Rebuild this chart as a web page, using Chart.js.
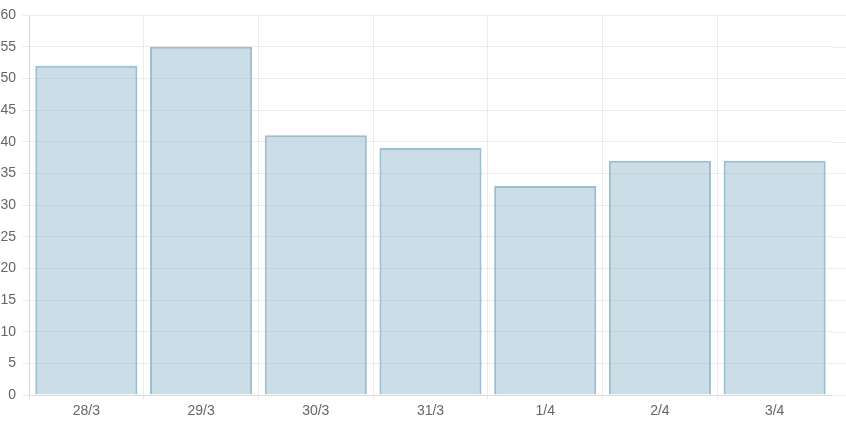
<!DOCTYPE html>
<html><head><meta charset="utf-8">
<script src="https://cdn.jsdelivr.net/npm/chart.js@4.4.1/dist/chart.umd.min.js"></script>
<style>
html,body{margin:0;padding:0;background:#fff;overflow:hidden}
#wrap{position:absolute;left:-4px;top:0;width:850px;height:422px}
</style></head><body>
<div id="wrap"><canvas id="c"></canvas></div>
<script>
const categories = ['28/3','29/3','30/3','31/3','1/4','2/4','3/4'];
const values = [52, 55, 41, 39, 33, 37, 37];
const yTicks = {min: 0, max: 60, step: 5};

const gridColor = 'rgba(0,0,0,0.07)';
const extendGrid = {
  id: 'extendGrid',
  beforeDatasetsDraw(chart) {
    const {ctx, chartArea, scales: {y}} = chart;
    ctx.save();
    ctx.strokeStyle = gridColor;
    ctx.lineWidth = 1;
    y.ticks.forEach((t, i) => {
      const py = Math.round(y.getPixelForTick(i)) + 0.5;
      ctx.beginPath();
      ctx.moveTo(chartArea.right, py);
      ctx.lineTo(chart.width, py);
      ctx.stroke();
    });
    ctx.restore();
  }
};

Chart.defaults.font.family = '"Liberation Sans", Arial, sans-serif';
Chart.defaults.font.size = 14;
Chart.defaults.color = '#666';
new Chart(document.getElementById('c'), {
  type: 'bar',
  data: {
    labels: categories,
    datasets: [{
      data: values,
      backgroundColor: 'rgba(151,187,205,0.5)',
      borderColor: 'rgba(151,187,205,0.95)',
      borderWidth: 2,
      categoryPercentage: 1,
      barPercentage: 0.89
    }]
  },
  options: {
    responsive: true,
    maintainAspectRatio: false,
    animation: false,
    layout: {padding: {top: 15, right: 14, left: 0, bottom: 0}},
    plugins: {legend: {display: false}, tooltip: {enabled: false}},
    scales: {
      x: {
        grid: {
          color: (c) => (c.tick ? gridColor : 'rgba(0,0,0,0)'),
          tickLength: 5
        },
        border: {color: gridColor},
        ticks: {padding: 3, maxRotation: 0},
        afterFit(s) { s.height = 27; }
      },
      y: {
        min: yTicks.min, max: yTicks.max,
        grid: {color: gridColor, tickLength: 7},
        border: {color: 'rgba(0,0,0,0.1)'},
        ticks: {stepSize: yTicks.step, padding: 6},
        afterFit(s) { s.width = 33; }
      }
    }
  },
  plugins: [extendGrid]
});
</script></body></html>
